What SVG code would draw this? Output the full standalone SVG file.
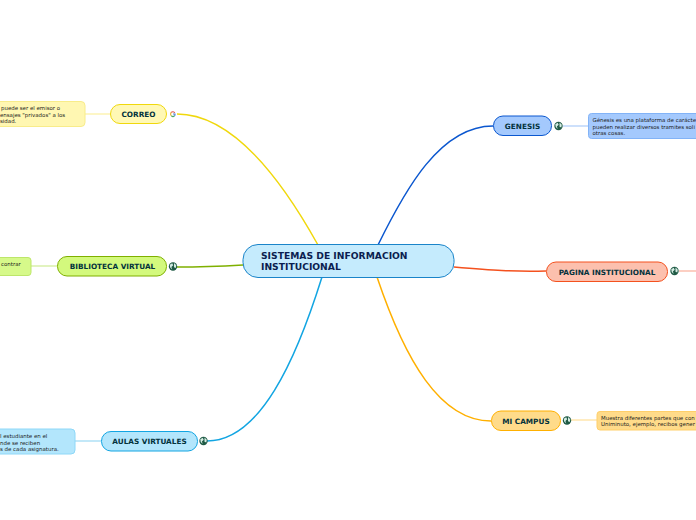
<svg xmlns="http://www.w3.org/2000/svg" width="696" height="520" viewBox="0 0 696 520">
<style>
text{font-family:"DejaVu Sans",Verdana,sans-serif}
.t{font-size:7.300px;font-weight:700;fill:#03323c;text-anchor:middle}
.n{font-size:5.450px;fill:#1c1c1c}
.c{fill:none;stroke-width:1.500}
.l{fill:none;stroke-width:1.200}
</style>
<defs>
<g id="globe"><circle r="4.200" fill="#1f5a45"/><path d="M-3.200-1.800-.8-3.200 .2-1.200-1.600.4-.8 3-2.800 1ZM1-3.400 3.300-1.200 2.800 1.400 1 .8Z" fill="#d5ece3"/></g>
</defs>
<rect width="696" height="520" fill="#fff"/>
<g id="connectors">
<path class="c" stroke="#f0d80c" d="M177 114C233 114 283 182 318 245"/>
<path class="c" stroke="#7fb000" d="M177 267C205 267 225 266 243 265"/>
<path class="c" stroke="#12a5e2" d="M207 441C260 441 296 360 322 277"/>
<path class="c" stroke="#0b57cf" d="M493 126C440 126 405 190 378 245"/>
<path class="c" stroke="#f4511e" d="M454 267C490 270 515 272 546 271"/>
<path class="c" stroke="#ffb000" d="M491 421C440 421 405 360 377 277"/>
<path class="l" stroke="#fbf0a0" d="M85 114H110"/>
<path class="l" stroke="#cfeb94" d="M31 266H57"/>
<path class="l" stroke="#9cd9f4" d="M75 441H101"/>
<path class="l" stroke="#abcbf9" d="M563 126H588"/>
<path class="l" stroke="#fbb09b" d="M679 271H696"/>
<path class="l" stroke="#ffe09a" d="M571 420H597"/>
</g>
<g id="central"><rect x="243" y="244.500" width="211" height="33" rx="15" fill="#c5ebfd" stroke="#1a84c9"/>
<text x="261" y="259" style="font-size:9.200px;font-weight:700;fill:#0b1e50">SISTEMAS DE INFORMACION</text>
<text x="261" y="270" style="font-size:9.200px;font-weight:700;fill:#0b1e50">INSTITUCIONAL</text></g>
<g id="correo"><rect x="110.500" y="104.500" width="56" height="19" rx="9.500" fill="#fff8b5" stroke="#f0d80c"/><text class="t" x="138.500" y="117">CORREO</text>
<g fill="none" stroke-width="1.200"><path d="M171.200 112.500A2.300 2.300 0 0 1 174.800 112.800" stroke="#e0554b"/><path d="M171.200 112.500A2.300 2.300 0 0 0 171.400 115.800" stroke="#e8b93a"/><path d="M171.400 115.800A2.300 2.300 0 0 0 174.500 115.800" stroke="#4fa864"/><path d="M174.500 115.800A2.300 2.300 0 0 0 175 114H173" stroke="#4f86d8"/></g></g>
<g id="correo-nota"><rect x="-20" y="101.500" width="105" height="25" rx="4" fill="#fff7b2" stroke="#f8ec8a"/>
<text class="n" x="1" y="110">puede ser el emisor o</text><text class="n" x="0" y="116.500">ensajes "privados" a los</text><text class="n" x="0" y="123">sidad.</text></g>
<g id="biblioteca"><rect x="57.500" y="256.500" width="109" height="19.500" rx="9.500" fill="#d3f97d" stroke="#7fb000"/><text class="t" x="112.500" y="269">BIBLIOTECA VIRTUAL</text>
<use href="#globe" x="173" y="266.500"/></g>
<g id="biblioteca-nota"><rect x="-20" y="257.500" width="51" height="18" rx="3" fill="#d6f98a" stroke="#bde66a"/><text class="n" x="1" y="266">contrar</text></g>
<g id="aulas"><rect x="101.500" y="431.500" width="96" height="19.500" rx="9.500" fill="#b3e6fc" stroke="#12a5e2"/><text class="t" x="149.500" y="444">AULAS VIRTUALES</text>
<use href="#globe" x="203.500" y="441"/></g>
<g id="aulas-nota"><rect x="-20" y="429" width="95" height="25" rx="4" fill="#b3e6fc" stroke="#8ed8f8"/>
<text class="n" x="0" y="437.500">l estudiante en el</text><text class="n" x="0" y="444.500">nde se reciben</text><text class="n" x="0" y="451">s de cada asignatura.</text></g>
<g id="genesis"><rect x="493.500" y="116" width="58" height="19.500" rx="9.500" fill="#a4c9fd" stroke="#0b57cf"/><text class="t" x="522.500" y="129">GENESIS</text>
<use href="#globe" x="558.500" y="126"/></g>
<g id="genesis-nota"><rect x="588.500" y="113.500" width="130" height="25" rx="3" fill="#a4c9fd" stroke="#82b3f7"/>
<text class="n" x="592.500" y="122">Génesis es una plataforma de carácte</text><text class="n" x="592.500" y="128.500">pueden realizar diversos tramites soli</text><text class="n" x="592.500" y="135">otras cosas.</text></g>
<g id="pagina"><rect x="546.500" y="262" width="121" height="19.500" rx="9.500" fill="#fcc0ae" stroke="#f4511e"/><text class="t" x="607" y="274.500">PAGINA INSTITUCIONAL</text>
<use href="#globe" x="674.500" y="271"/></g>
<g id="campus"><rect x="491.500" y="411" width="69" height="19.500" rx="9.500" fill="#ffdb8a" stroke="#ffb000"/><text class="t" x="526" y="423.500">MI CAMPUS</text>
<use href="#globe" x="567" y="420.500"/></g>
<g id="campus-nota"><rect x="597" y="411.500" width="120" height="18.500" rx="3" fill="#ffdb8a" stroke="#ffcf6a"/>
<text class="n" x="601" y="419.500">Muestra diferentes partes que con</text><text class="n" x="601" y="426">Uniminuto, ejemplo, recibos gener</text></g>
</svg>
